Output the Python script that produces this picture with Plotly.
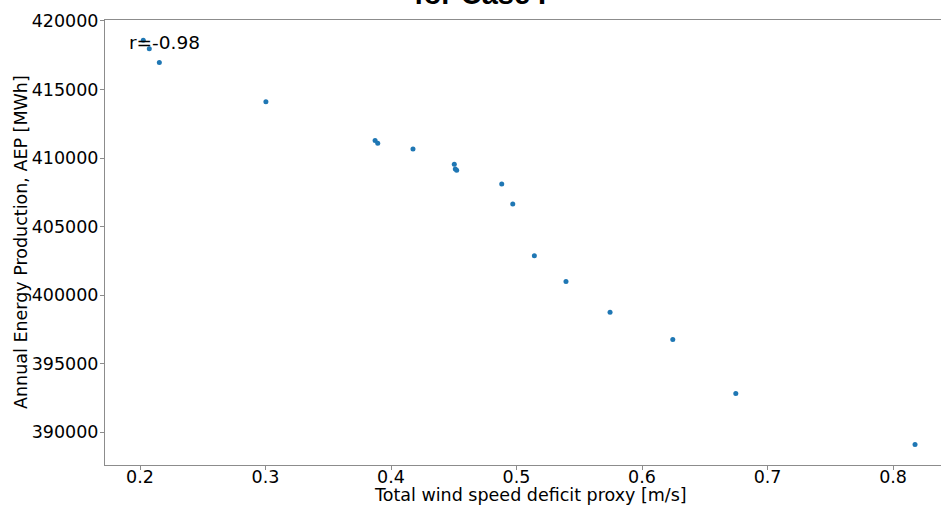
import plotly.graph_objects as go

deficit = [0.2026, 0.2074, 0.2154, 0.3003, 0.3873, 0.3894, 0.4175, 0.4504, 0.4512,
           0.4523, 0.4882, 0.4970, 0.5142, 0.5394, 0.5745, 0.6245, 0.6747, 0.8175]
aep = [418600, 417980, 416960, 414110, 411270, 411080, 410660, 409550, 409200,
       409110, 408110, 406650, 402860, 400990, 398750, 396760, 392820, 389100]
x_ticks = [0.2, 0.3, 0.4, 0.5, 0.6, 0.7, 0.8]
y_ticks = [390000, 395000, 400000, 405000, 410000, 415000, 420000]

W, H = 941, 506
L, T, B, R = 105, 20, 41, 0
PW, PH = W - L - R, H - T - B


def px(x):
    return (x - L) / PW


def py(y):
    return (H - B - y) / PH


fig = go.Figure()
fig.add_trace(go.Scatter(x=deficit, y=aep, mode="markers",
                         marker=dict(color="#1f77b4", size=5), showlegend=False))

axis_common = dict(showgrid=False, zeroline=False, showline=True, linecolor="#8c8c8c",
                   linewidth=1, ticks="outside", ticklen=4, tickcolor="#8c8c8c",
                   automargin=False,
                   tickfont=dict(family="DejaVu Sans", size=17.5, color="black"))
fig.update_xaxes(range=[0.1721, 0.8382], tickvals=x_ticks, mirror=True,
                 ticklabelstandoff=-8, **axis_common)
fig.update_yaxes(range=[387600, 420070], tickvals=y_ticks, tickformat="d",
                 ticklabelstandoff=-2, **axis_common)

title_font = dict(family="DejaVu Sans", size=17.5, color="black")
fig.add_annotation(text="Total wind speed deficit proxy [m/s]", xref="paper", yref="paper",
                   x=px(530), y=py(495), xanchor="center", yanchor="middle",
                   showarrow=False, font=title_font)
fig.add_annotation(text="Annual Energy Production, AEP [MWh]", xref="paper", yref="paper",
                   x=px(21), y=py(242), xanchor="center", yanchor="middle",
                   textangle=-90, showarrow=False, font=title_font)

fig.add_annotation(text="r=-0.98", xref="paper", yref="paper",
                   x=px(127), y=py(43), xanchor="left", yanchor="middle", showarrow=False,
                   font=dict(family="DejaVu Sans", size=18.5, color="black"))
fig.add_annotation(text="<b>for Case I</b>", xref="paper", yref="paper",
                   x=px(480), y=py(12), xanchor="center", yanchor="bottom", showarrow=False,
                   font=dict(family="Liberation Sans", size=29, color="black"))

fig.update_layout(width=W, height=H, margin=dict(l=L, r=R, t=T, b=B),
                  plot_bgcolor="white", paper_bgcolor="white")
fig.write_html("out.html", config={"displayModeBar": False},
               post_script="document.body.style.margin='0';document.body.style.overflow='hidden';")
